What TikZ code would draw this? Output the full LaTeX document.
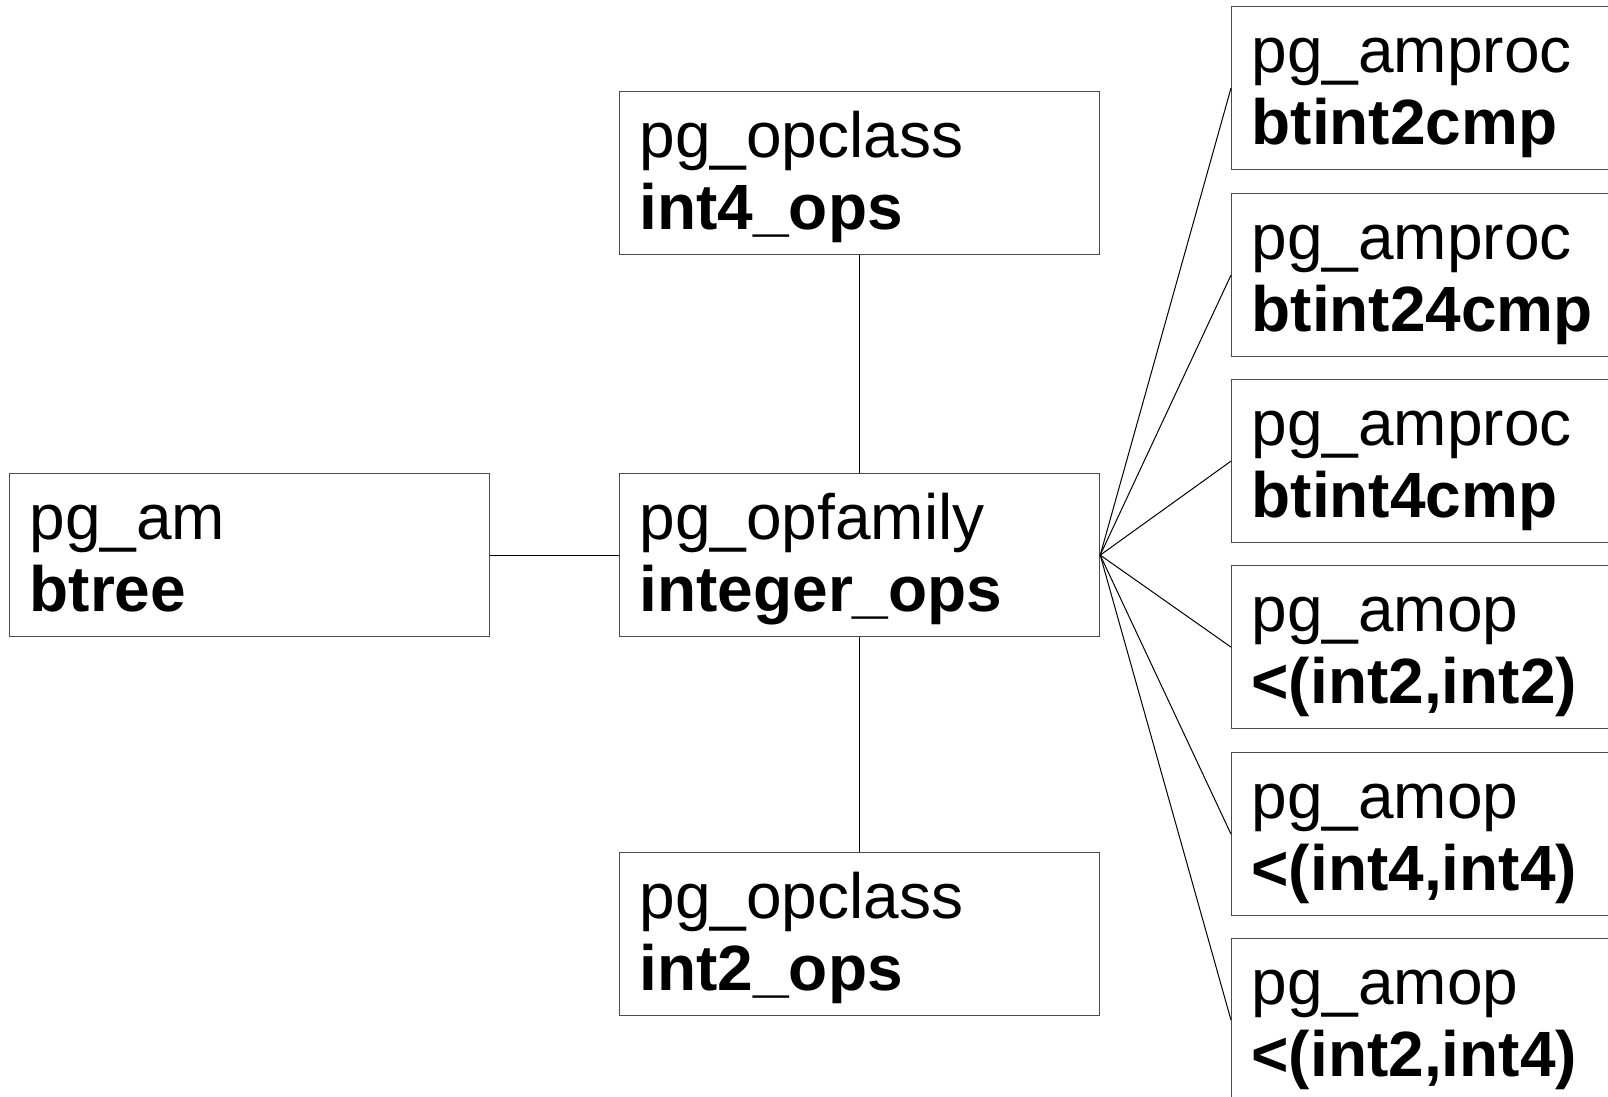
\documentclass[tikz,border=0pt]{standalone}
\usepackage{fontspec}
\setmainfont{Liberation Sans}
\newcommand\boxlines[2]{\rule{0pt}{56pt}#1\\\textbf{#2}\rule[-15pt]{0pt}{15pt}}
\begin{document}
\begin{tikzpicture}[x=1pt,y=-1pt,
  tbl/.style={draw=black!70, line width=1.2pt, anchor=north west,
    minimum width=480pt, minimum height=163pt, inner xsep=20pt, inner ysep=10pt,
    text width=440pt, align=left, font=\fontsize{64}{72}\selectfont},
  link/.style={draw=black, line width=1pt}]
\useasboundingbox (0,0) rectangle (1608,1096);
\clip (0,0) rectangle (1608,1096);
\node[tbl] (am)  at (9,473)   {\boxlines{pg\_am}{btree}};
\node[tbl] (fam) at (619,473) {\boxlines{pg\_opfamily}{integer\_ops}};
\node[tbl] (oc4) at (619,91)  {\boxlines{pg\_opclass}{int4\_ops}};
\node[tbl] (oc2) at (619,852) {\boxlines{pg\_opclass}{int2\_ops}};
\node[tbl] (p1) at (1231,6)   {\boxlines{pg\_amproc}{btint2cmp}};
\node[tbl] (p2) at (1231,193) {\boxlines{pg\_amproc}{btint24cmp}};
\node[tbl] (p3) at (1231,379) {\boxlines{pg\_amproc}{btint4cmp}};
\node[tbl] (o1) at (1231,565) {\boxlines{pg\_amop}{<(int2,int2)}};
\node[tbl] (o2) at (1231,752) {\boxlines{pg\_amop}{<(int4,int4)}};
\node[tbl] (o3) at (1231,938) {\boxlines{pg\_amop}{<(int2,int4)}};
\draw[link] (am.east) -- (fam.west);
\draw[link] (oc4.south) -- (fam.north);
\draw[link] (fam.south) -- (oc2.north);
\foreach \t in {p1,p2,p3,o1,o2,o3}{\draw[link] (fam.east) -- (\t.west);}
\end{tikzpicture}
\end{document}
